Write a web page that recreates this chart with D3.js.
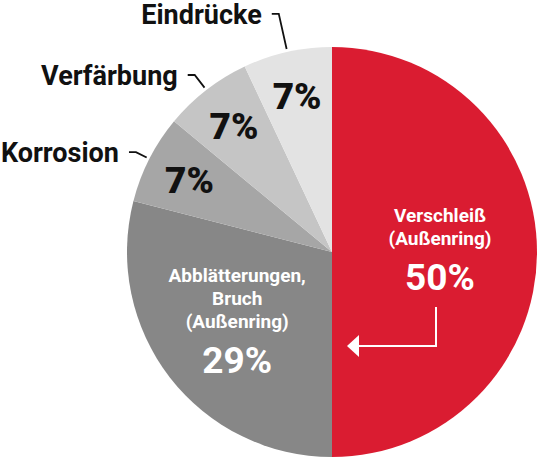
<!DOCTYPE html>
<html>
<head>
<meta charset="utf-8">
<script src="https://cdn.jsdelivr.net/npm/d3@7"></script>
<style>
  html, body { margin: 0; padding: 0; background: #fff; }
  svg { display: block; font-family: Roboto, "Noto Sans", sans-serif; }
</style>
</head>
<body>
<svg id="chart" width="539" height="458"></svg>
<script>
// Schadensursachen, Anteile in Prozent
const categories = ['Verschleiß (Außenring)', 'Abblätterungen, Bruch (Außenring)', 'Korrosion', 'Verfärbung', 'Eindrücke'];
const values = [50, 29, 7, 7, 7];
const colors = ['#da1c31', '#878787', '#a6a6a6', '#c5c5c5', '#e3e3e3'];

// inner labels (multi-line), outer labels
const innerLines = [['Verschleiß', '(Außenring)'], ['Abblätterungen,', 'Bruch', '(Außenring)']];
const outerNames = ['Korrosion', 'Verfärbung', 'Eindrücke'];

const width = 539, height = 458;
const cx = 332, cy = 252, radius = 205;

const svg = d3.select('#chart');
const g = svg.append('g').attr('transform', `translate(${cx},${cy})`);

const pie = d3.pie().sort(null).value(d => d);
const arcs = pie(values);

const arc = d3.arc().innerRadius(0).outerRadius(radius);

g.selectAll('path.slice')
    .data(arcs)
    .enter()
    .append('path')
    .attr('class', 'slice')
    .attr('d', arc)
    .style('fill', (d, i) => colors[i]);

// Big inside labels for the two large slices
const innerArc = [
    d3.arc().innerRadius(108).outerRadius(108),
    d3.arc().innerRadius(120).outerRadius(120)
];
// vertical offsets of the label block relative to the centroid
const blockShift = [-30, -44];

arcs.slice(0, 2).forEach((d, i) => {
    const [x, y] = innerArc[i].centroid(d);
    const lines = innerLines[i];
    const t = g.append('g').attr('transform', `translate(${x},${y + blockShift[i]})`);
    lines.forEach((line, j) => {
        t.append('text')
            .attr('text-anchor', 'middle')
            .attr('y', j * 23)
            .style('font-size', '19px')
            .style('font-weight', 700)
            .style('fill', '#fff')
            .text(line);
    });
    t.append('text')
        .attr('text-anchor', 'middle')
        .attr('y', (lines.length - 1) * 23 + 45)
        .style('font-size', '37px')
        .style('font-weight', 700)
        .style('fill', '#fff')
        .text(`${values[i]}%`);
});

// Arrow from the red label into the grey slice
const arrow = g.append('g');
const ax = innerArc[0].centroid(arcs[0])[0] - 4;
arrow.append('path')
    .attr('d', `M${ax},55 V94 H26`)
    .style('fill', 'none')
    .style('stroke', '#fff')
    .style('stroke-width', 2);
arrow.append('path')
    .attr('d', 'M15,94 L27,83 L27,105 Z')
    .style('fill', '#fff');

// Percentages of the small slices
const pctArc = d3.arc().innerRadius(160).outerRadius(160);
arcs.slice(2).forEach(d => {
    const [x, y] = pctArc.centroid(d);
    g.append('text')
        .attr('x', x)
        .attr('y', y)
        .attr('dy', '0.36em')
        .attr('text-anchor', 'middle')
        .style('font-size', '37px')
        .style('font-weight', 900)
        .style('fill', '#111')
        .text(`${d.value}%`);
});

// Outer labels with leader lines
const edgeArc = d3.arc().innerRadius(radius + 3).outerRadius(radius + 3);
const leaderLen = [12, 16, 36];
const shelf = 7;
arcs.slice(2).forEach((d, i) => {
    const [x0, y0] = edgeArc.centroid(d);
    const a = (d.startAngle + d.endAngle) / 2;
    const x1 = x0 + Math.sin(a) * leaderLen[i];
    const y1 = y0 - Math.cos(a) * leaderLen[i];
    const x2 = x1 - shelf;
    g.append('path')
        .attr('d', `M${x0},${y0} L${x1},${y1} H${x2}`)
        .style('fill', 'none')
        .style('stroke', '#111')
        .style('stroke-width', 1.8);
    g.append('text')
        .attr('x', x2 - 10)
        .attr('y', y1)
        .attr('dy', '0.36em')
        .attr('text-anchor', 'end')
        .style('font-size', '27px')
        .style('font-weight', 700)
        .style('fill', '#111')
        .text(outerNames[i]);
});
</script>
</body>
</html>
